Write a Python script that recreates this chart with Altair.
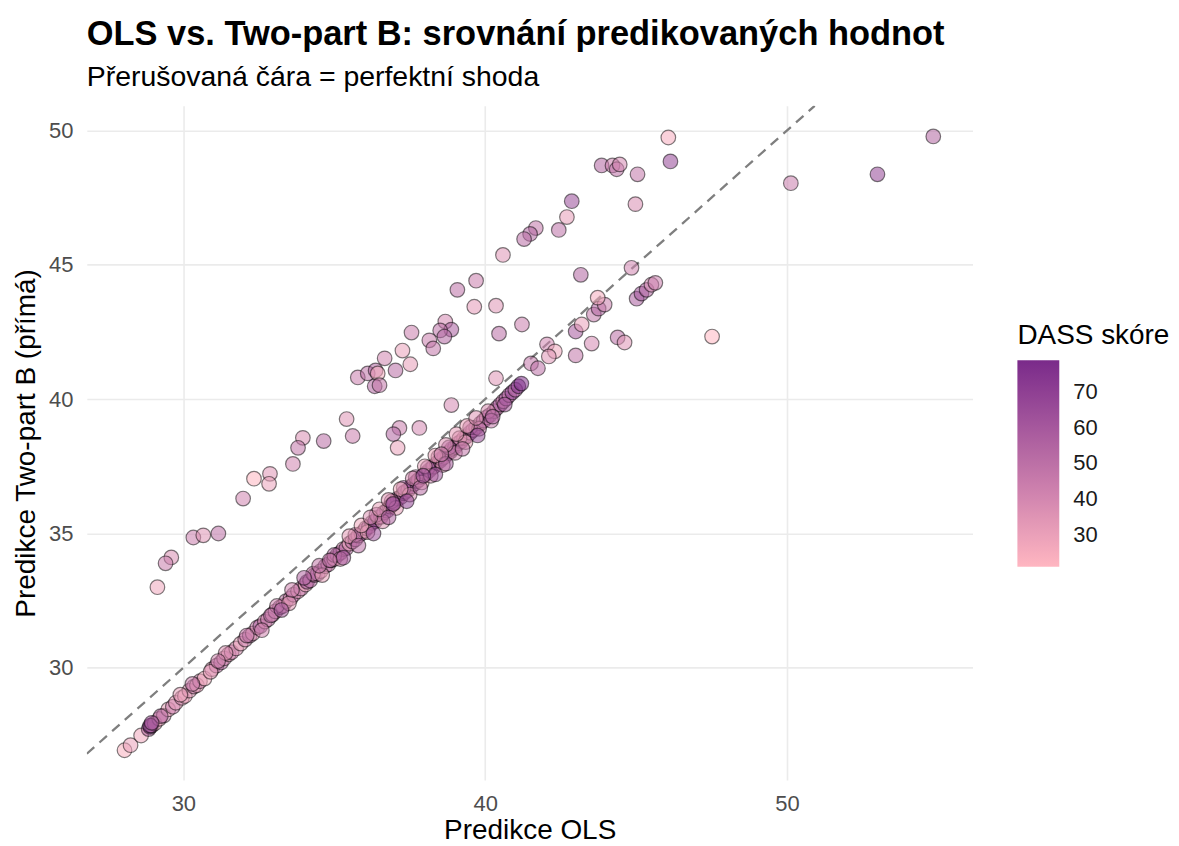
import altair as alt
import pandas as pd

# ---- Dense band of points (OLS prediction, Two-part B prediction, DASS score)
band_x = [
    28.05, 28.25, 28.6, 28.85, 28.9, 28.95, 29.05, 29.2, 29.35, 29.5,
    29.65, 29.75, 29.95, 30.05, 30.2, 30.35, 30.45, 30.55, 30.7, 30.95,
    31.1, 31.25, 31.35, 31.5, 31.6, 31.75, 31.9, 32.05, 32.2, 32.3,
    32.45, 32.55, 32.7, 32.8, 32.95, 33.05, 33.2, 33.3, 33.4, 33.55,
    33.65, 33.8, 33.9, 34.05, 34.1, 34.2, 34.35, 34.45, 34.55, 34.7,
    34.8, 34.9, 35.0, 35.1, 35.2, 35.3, 35.4, 35.5, 35.6, 35.7,
    35.8, 35.9, 36.0, 36.05, 36.15, 36.25, 36.35, 36.45, 36.55, 36.65,
    36.75, 36.85, 36.9, 37.0, 37.1, 37.2, 37.3, 37.35, 37.45, 37.55,
    37.65, 37.75, 37.8, 37.9, 38.0, 38.05, 38.15, 38.25, 38.3, 38.4,
    38.5, 38.55, 38.65, 38.75, 38.85, 38.9, 39.0, 39.1, 39.2, 39.3,
    39.4, 39.5, 39.6, 39.7, 39.85, 39.95, 40.05, 40.15, 40.3, 40.4,
    40.5, 40.6, 40.7, 40.8, 40.9, 41.0, 41.1, 41.2,
    33.1, 33.5, 34.3, 34.6, 35.0, 35.2, 35.7, 36.1, 36.4, 36.6,
    36.9, 37.05, 37.3, 37.5, 37.7, 37.9, 38.1, 38.2, 38.45, 38.6,
    38.8, 39.0, 39.15, 39.35, 39.5, 39.8, 40.1, 40.2, 31.4, 32.6,
    29.9, 30.9,
    35.5, 35.9, 36.2, 36.5, 36.8, 37.2, 37.6, 38.0, 38.35, 38.7,
    39.05, 39.4, 39.7, 34.5, 34.0, 33.6, 35.3, 35.8, 36.3, 36.8,
    37.4, 37.85, 38.35, 38.7, 39.25, 39.75, 40.25, 40.65, 32.1, 32.9,
    31.15, 30.3, 29.25, 28.9, 28.95, 33.25, 34.85, 36.95, 37.95, 38.55,
]
band_y = [
    26.93, 27.12, 27.48, 27.72, 27.8, 27.85, 27.93, 28.1, 28.22, 28.45,
    28.55, 28.7, 28.88, 28.95, 29.15, 29.3, 29.35, 29.5, 29.6, 29.95,
    30.08, 30.2, 30.35, 30.5, 30.58, 30.72, 30.9, 31.05, 31.2, 31.28,
    31.5, 31.55, 31.72, 31.8, 31.98, 32.1, 32.25, 32.3, 32.48, 32.58,
    32.72, 32.85, 32.95, 33.1, 33.2, 33.25, 33.45, 33.5, 33.6, 33.78,
    33.85, 34.0, 34.05, 34.2, 34.28, 34.42, 34.45, 34.62, 34.7, 34.78,
    34.92, 35.0, 35.1, 35.2, 35.25, 35.4, 35.45, 35.6, 35.62, 35.78,
    35.85, 36.0, 36.05, 36.15, 36.3, 36.35, 36.5, 36.55, 36.62, 36.75,
    36.85, 36.95, 37.0, 37.1, 37.2, 37.25, 37.35, 37.45, 37.5, 37.62,
    37.7, 37.78, 37.85, 37.98, 38.05, 38.15, 38.22, 38.35, 38.42, 38.55,
    38.62, 38.75, 38.85, 38.95, 39.1, 39.2, 39.32, 39.4, 39.55, 39.68,
    39.8, 39.92, 40.02, 40.15, 40.25, 40.35, 40.48, 40.58,
    32.3, 32.4, 33.5, 33.45, 34.2, 34.05, 34.95, 35.05, 35.7, 35.45,
    36.2, 35.95, 36.7, 36.45, 37.1, 36.9, 37.45, 37.15, 37.85, 37.55,
    38.2, 38.0, 38.55, 38.4, 38.95, 38.9, 39.55, 39.2, 30.55, 31.4,
    29.0, 29.85,
    34.9, 35.3, 35.6, 35.9, 36.25, 36.65, 37.05, 37.5, 37.9, 38.3,
    38.7, 39.0, 39.3, 33.8, 33.35, 32.9, 34.1, 34.55, 35.0, 35.6,
    36.2, 36.7, 37.2, 37.6, 38.15, 38.65, 39.35, 39.8, 31.2, 31.95,
    30.25, 29.4, 28.2, 27.85, 27.95, 32.15, 34.0, 36.1, 37.15, 37.95,
]
band_dass = [
    24, 30, 28, 55, 68, 40, 35, 32, 42, 30,
    45, 33, 38, 28, 36, 44, 30, 41, 26, 35,
    48, 52, 40, 34, 45, 38, 30, 42, 50, 36,
    44, 58, 38, 47, 30, 41, 62, 35, 48, 40,
    52, 36, 45, 28, 60, 50, 42, 66, 38, 55,
    44, 58, 35, 48, 62, 40, 52, 30, 46, 56,
    38, 64, 44, 50, 58, 42, 70, 36, 52, 46,
    60, 40, 55, 48, 66, 38, 58, 50, 44, 72,
    54, 62, 46, 68, 40, 56, 50, 74, 44, 60,
    48, 64, 38, 56, 52, 42, 66, 46, 58, 36,
    62, 50, 44, 55, 40, 60, 48, 65, 52, 45,
    58, 42, 62, 50, 68, 55, 72, 76,
    40, 34, 46, 30, 52, 38, 44, 28, 56, 36,
    48, 32, 60, 38, 50, 26, 54, 40, 46, 34,
    58, 42, 36, 30, 52, 44, 38, 48, 35, 42,
    30, 33,
    32, 28, 36, 30, 34, 26, 38, 30, 28, 35,
    32, 29, 36, 48, 55, 42, 60, 50, 64, 56,
    68, 52, 62, 58, 48, 66, 54, 60, 45, 52,
    40, 44, 50, 66, 60, 58, 46, 70, 64, 42,
]

# ---- Points off the band
out_x = [
    46.07, 46.14, 54.85, 53.0, 50.13, 47.52, 43.86, 44.22, 44.36, 44.46,
    45.05, 44.98, 42.87, 42.71, 42.44, 41.68, 41.49, 41.29, 40.59, 43.17,
    44.85, 39.70, 39.08, 39.64, 40.36, 40.46, 41.22, 40.36, 41.52, 41.75,
    42.05, 42.31, 42.11, 43.0, 43.53, 44.39, 44.62, 43.0, 43.20, 43.60,
    43.76, 43.96, 43.73, 45.02, 45.18, 45.35, 45.51, 45.64, 37.56, 38.68,
    38.88, 38.51, 38.65, 38.15, 38.28, 37.26, 37.52, 36.67, 37.03, 35.78,
    36.11, 36.37, 36.44, 36.34, 36.50, 38.88, 35.41, 35.61, 34.65, 33.96,
    33.80, 33.63, 32.87, 32.84, 32.34, 31.98, 30.33, 30.66, 31.16, 29.60,
    29.41, 29.14, 37.16, 36.96, 37.82, 37.10,
]
out_y = [
    49.74, 48.85, 49.78, 48.37, 48.04, 42.33, 48.70, 48.70, 48.56, 48.74,
    48.37, 47.26, 47.37, 46.78, 46.30, 46.37, 46.15, 45.96, 45.37, 44.63,
    44.89, 44.41, 44.07, 43.44, 43.48, 42.44, 42.78, 40.78, 41.33, 41.15,
    42.04, 41.78, 41.59, 41.63, 42.07, 42.30, 42.11, 42.52, 42.78, 43.15,
    43.37, 43.52, 43.78, 43.74, 43.93, 44.07, 44.26, 44.33, 42.48, 42.89,
    42.59, 42.56, 42.33, 42.19, 41.89, 41.81, 41.30, 41.52, 41.07, 40.81,
    40.96, 41.07, 40.96, 40.48, 40.52, 39.78, 39.26, 38.63, 38.44, 38.56,
    38.19, 37.59, 37.22, 36.85, 37.04, 36.30, 34.85, 34.93, 35.00, 34.11,
    33.89, 33.00, 38.93, 38.70, 38.93, 38.19,
]
out_dass = [
    25, 68, 55, 68, 45, 21, 55, 45, 50, 40,
    48, 38, 66, 32, 50, 48, 55, 52, 35, 55,
    42, 45, 50, 33, 35, 52, 45, 35, 48, 50,
    42, 28, 35, 48, 40, 52, 35, 60, 30, 48,
    55, 45, 25, 58, 62, 55, 40, 45, 45, 40,
    58, 50, 55, 45, 48, 30, 32, 42, 52, 45,
    50, 55, 25, 55, 48, 40, 35, 45, 52, 38,
    48, 42, 35, 30, 22, 42, 45, 35, 50, 38,
    45, 28, 45, 55, 40, 30,
]

# ---- Perfect-agreement reference line (y = x) across the panel
diag_vals = [26.8, 50.92]

# ---- Axis / legend settings
x_domain = [26.8, 56.15]
y_domain = [25.82, 50.92]
x_ticks = [30, 40, 50]
y_ticks = [30, 35, 40, 45, 50]
legend_ticks = [30, 40, 50, 60, 70]
dass_domain = [21, 79]

FONT = "Liberation Sans"

df = pd.DataFrame({
    "ols": band_x + out_x,
    "tp": band_y + out_y,
    "dass": band_dass + out_dass,
})
line_df = pd.DataFrame({"ols": diag_vals, "tp": diag_vals})

xs = alt.Scale(domain=x_domain, nice=False, zero=False)
ys = alt.Scale(domain=y_domain, nice=False, zero=False)

x_axis = alt.Axis(values=x_ticks, title="Predikce OLS")
y_axis = alt.Axis(values=y_ticks, title="Predikce Two-part B (přímá)")

line = alt.Chart(line_df).mark_line(
    color="#7F7F7F", strokeWidth=2.3, strokeDash=[10, 7], clip=True
).encode(
    x=alt.X("ols:Q", scale=xs, axis=x_axis),
    y=alt.Y("tp:Q", scale=ys, axis=y_axis),
)

pts = alt.Chart(df).mark_circle(
    size=215, stroke="black", strokeWidth=1.2, fillOpacity=0.55, strokeOpacity=0.5
).encode(
    x=alt.X("ols:Q", scale=xs, axis=x_axis),
    y=alt.Y("tp:Q", scale=ys, axis=y_axis),
    color=alt.Color(
        "dass:Q",
        scale=alt.Scale(domain=dass_domain, range=["#FFB6C1", "#7A2A8A"], interpolate="lab"),
        legend=alt.Legend(
            title="DASS skóre",
            orient="none",
            legendX=933,
            legendY=217,
            direction="vertical",
            values=legend_ticks,
            gradientLength=207,
            gradientThickness=42,
            gradientStrokeWidth=0,
            titleFont=FONT,
            titleFontSize=28,
            titleFontWeight="normal",
            titleColor="#000000",
            titlePadding=10,
            labelFont=FONT,
            labelFontSize=22,
            labelColor="#1A1A1A",
            labelOffset=14,
        ),
    ),
)

chart = alt.layer(line, pts).properties(
    width=888,
    height=676,
    padding={"left": 79, "top": 97, "right": 199, "bottom": 65},
    autosize=alt.AutoSizeParams(type="none"),
    title=alt.TitleParams(
        text="OLS vs. Two-part B: srovnání predikovaných hodnot",
        subtitle="Přerušovaná čára = perfektní shoda",
        anchor="start",
        frame="group",
        font=FONT,
        fontSize=34.5,
        fontWeight="bold",
        color="#000000",
        subtitleFont=FONT,
        subtitleFontSize=28.5,
        subtitleColor="#000000",
        subtitlePadding=11,
        offset=13,
    ),
).configure_view(
    stroke=None
).configure_axis(
    grid=True,
    gridColor="#EBEBEB",
    gridWidth=1.6,
    domain=False,
    ticks=False,
    tickSize=0,
    labelFont=FONT,
    labelFontSize=22,
    labelColor="#4D4D4D",
    titleFont=FONT,
    titleFontSize=28,
    titleFontWeight="normal",
    titleColor="#000000",
).configure_axisX(
    labelPadding=13,
    titlePadding=3,
).configure_axisY(
    labelPadding=14,
    titlePadding=8,
)

chart.save("out.html", embed_options={"renderer": "svg", "actions": False})
